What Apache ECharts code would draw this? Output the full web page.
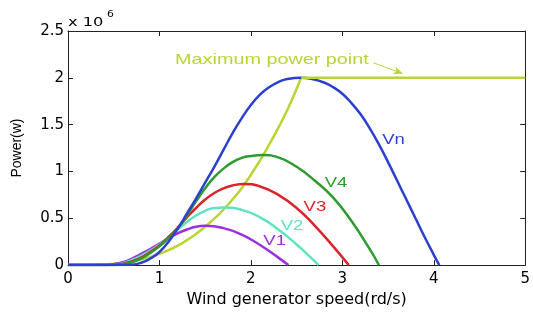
<!DOCTYPE html>
<html>
<head>
<meta charset="utf-8">
<script src="https://cdn.jsdelivr.net/npm/echarts@6/dist/echarts.min.js"></script>
<style>
  html, body { margin: 0; padding: 0; background: #fff; }
  #chart { width: 533px; height: 313px; }
</style>
</head>
<body>
<div id="chart"></div>
<script>
// power (x 10^6 W) vs wind generator speed (rd/s)
var v1Pts = [[0,0],[0.35,0],[0.5,0.01],[0.6,0.03],[0.7,0.07],[0.8,0.12],[0.9,0.17],[1.0,0.23],[1.1,0.29],[1.2,0.34],[1.3,0.38],[1.4,0.41],[1.5,0.42],[1.7,0.395],[1.9,0.325],[2.1,0.215],[2.3,0.08],[2.41,0]];
var v2Pts = [[0,0],[0.4,0],[0.5,0.004],[0.6,0.02],[0.7,0.055],[0.8,0.1],[0.9,0.155],[1.0,0.22],[1.1,0.3],[1.2,0.38],[1.3,0.46],[1.4,0.53],[1.5,0.58],[1.6,0.61],[1.7,0.615],[1.9,0.59],[2.1,0.51],[2.3,0.38],[2.5,0.22],[2.65,0.085],[2.74,0]];
var v3Pts = [[0,0],[0.45,0],[0.6,0.015],[0.7,0.04],[0.8,0.08],[0.9,0.14],[1.0,0.21],[1.1,0.3],[1.2,0.4],[1.3,0.51],[1.4,0.61],[1.5,0.7],[1.6,0.77],[1.7,0.82],[1.8,0.85],[1.92,0.866],[2.1,0.84],[2.3,0.75],[2.5,0.61],[2.7,0.42],[2.9,0.2],[3.07,0]];
var v4Pts = [[0,0],[0.45,0],[0.6,0.01],[0.7,0.03],[0.8,0.07],[0.9,0.13],[1.0,0.2],[1.1,0.29],[1.2,0.39],[1.3,0.53],[1.4,0.68],[1.5,0.82],[1.6,0.94],[1.7,1.03],[1.8,1.1],[1.9,1.145],[2.0,1.165],[2.13,1.175],[2.3,1.15],[2.5,1.05],[2.7,0.9],[2.9,0.72],[3.1,0.47],[3.3,0.17],[3.4,0]];
var vnPts = [[0,0],[0.5,0],[0.7,0.005],[0.8,0.025],[0.9,0.07],[1.0,0.14],[1.1,0.25],[1.2,0.39],[1.3,0.55],[1.4,0.71],[1.5,0.88],[1.6,1.05],[1.7,1.23],[1.8,1.41],[1.9,1.57],[2.0,1.71],[2.1,1.82],[2.2,1.9],[2.3,1.955],[2.4,1.988],[2.55,2.0],[2.68,1.985],[2.8,1.95],[2.9,1.9],[3.0,1.83],[3.1,1.73],[3.2,1.61],[3.3,1.46],[3.4,1.29],[3.5,1.1],[3.6,0.9],[3.7,0.7],[3.8,0.5],[3.9,0.3],[4.0,0.11],[4.06,0]];
var mppCurve = [[0,0],[0.25,0.002],[0.5,0.015],[0.75,0.05],[1.0,0.12],[1.25,0.235],[1.5,0.41],[1.75,0.645],[2.0,0.965],[2.25,1.375],[2.4,1.66],[2.55,2.0]];
var mppFlat = [[2.55,2.0],[5,2.0]];
var xTicks = [0, 5, 1];
var yTicks = [0, 2.5, 0.5];

var cBlue = '#2b3fd0', cGreen = '#2e9b2e', cRed = '#d9262b',
    cCyan = '#5fe3c3', cPurple = '#9b30e0', cLime = '#bcd433';

var chart = echarts.init(document.getElementById('chart'));

function axisBase(pos, range) {
  return {
    type: 'value', position: pos, min: range[0], max: range[1], interval: range[2],
    axisLine: { show: true, onZero: false, lineStyle: { color: '#222', width: 1 } },
    axisTick: { show: true, inside: true, length: 5, lineStyle: { color: '#222' } },
    splitLine: { show: false },
    axisLabel: { show: false }
  };
}

var xBottom = axisBase('bottom', xTicks);
xBottom.axisLabel = { show: true, color: '#000', fontFamily: 'DejaVu Sans', fontSize: 15, margin: 7 };
xBottom.name = 'Wind generator speed(rd/s)';
xBottom.nameLocation = 'middle';
xBottom.nameGap = 14;
xBottom.nameTextStyle = { color: '#000', fontFamily: 'DejaVu Sans', fontSize: 16 };

var yLeft = axisBase('left', yTicks);
yLeft.axisLabel = { show: true, color: '#000', fontFamily: 'DejaVu Sans', fontSize: 15, margin: 4 };
yLeft.name = 'Power(w)';
yLeft.nameLocation = 'middle';
yLeft.nameGap = 44;
yLeft.nameTextStyle = { color: '#000', fontFamily: 'Liberation Sans', fontSize: 14 };

function line(name, pts, color) {
  return {
    name: name, type: 'line', data: pts, xAxisIndex: 0, yAxisIndex: 0,
    smooth: true, showSymbol: false, symbol: 'none',
    lineStyle: { color: color, width: 2.5 }, silent: true, z: 3
  };
}

var series = [
  line('MPP', mppCurve, cLime),
  line('V1', v1Pts, cPurple),
  line('V2', v2Pts, cCyan),
  line('V3', v3Pts, cRed),
  line('V4', v4Pts, cGreen),
  line('Vn', vnPts, cBlue)
];
var flat = line('MPP flat', mppFlat, cLime);
flat.smooth = false;
flat.markLine = {
  silent: true, symbol: ['none', 'arrow'], symbolSize: [6, 9],
  label: { show: false },
  lineStyle: { color: cLime, width: 1, type: 'solid' },
  data: [[{ coord: [3.34, 2.16] }, { coord: [3.66, 2.045] }]]
};
series.push(flat);

chart.setOption({
  backgroundColor: '#fff',
  animation: false,
  grid: { left: 68, right: 4, top: 31, bottom: 34 },
  xAxis: [xBottom, axisBase('top', xTicks)],
  yAxis: [yLeft, axisBase('right', yTicks)],
  series: series
});

// in-plot annotations, anchored in data coordinates
var notes = [
  { text: 'Maximum power point', at: [2.23, 2.19], color: cLime, size: 15 },
  { text: 'Vn', at: [3.56, 1.33], color: cBlue, size: 14 },
  { text: 'V4', at: [2.93, 0.88], color: cGreen, size: 14 },
  { text: 'V3', at: [2.70, 0.62], color: cRed, size: 14 },
  { text: 'V2', at: [2.45, 0.42], color: cCyan, size: 14 },
  { text: 'V1', at: [2.26, 0.26], color: cPurple, size: 14 }
];
var graphics = notes.map(function (n) {
  var p = chart.convertToPixel({ xAxisIndex: 0, yAxisIndex: 0 }, n.at);
  return {
    type: 'text', x: p[0], y: p[1], scaleX: 1.32, silent: true,
    style: { text: n.text, fill: n.color, fontFamily: 'Liberation Sans', fontSize: n.size,
             align: 'center', verticalAlign: 'middle' }
  };
});
// exponent marker above the y axis
graphics.push({
  type: 'text', x: 68, y: 23, scaleX: 1.25, silent: true,
  style: { text: 'x 10', fill: '#000', fontFamily: 'DejaVu Sans', fontSize: 13, align: 'left', verticalAlign: 'middle' }
});
graphics.push({
  type: 'text', x: 107, y: 15, scaleX: 1.2, silent: true,
  style: { text: '6', fill: '#000', fontFamily: 'DejaVu Sans', fontSize: 9, align: 'left', verticalAlign: 'middle' }
});
chart.setOption({ graphic: graphics });
</script>
</body>
</html>
